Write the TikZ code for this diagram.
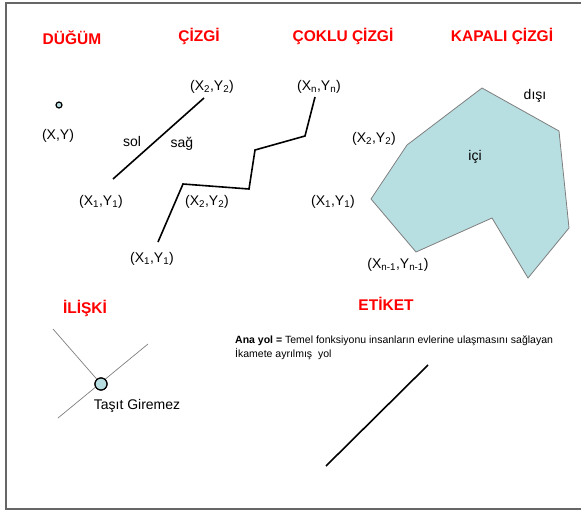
\documentclass[tikz,border=0pt]{standalone}
\usepackage{fontspec}
\setmainfont{Liberation Sans}
\definecolor{titlered}{HTML}{FF0000}
\definecolor{polyfill}{HTML}{B7DEE1}
\definecolor{framegray}{HTML}{666666}
\definecolor{edgegray}{HTML}{7F7F7F}
\tikzset{
  title/.style={font=\fontsize{15.5}{18}\selectfont\bfseries, text=titlered, inner sep=0pt},
  lbl/.style={font=\fontsize{14}{16}\selectfont, inner sep=0pt},
  blackline/.style={line width=1.6pt, black},
  relline/.style={line width=0.7pt, edgegray},
}
\begin{document}
\begin{tikzpicture}[x=1pt,y=-1pt]
\useasboundingbox (0,0) rectangle (581,511);
% frame
\draw[framegray, line width=1.5pt] (581,3) -- (6,3) -- (6,509) -- (581,509);

% titles
\node[title] (t1) at (72,38) {DÜĞÜM};
\node[title] (t2) at (199,36) {ÇİZGİ};
\node[title] (t3) at (343,36) {ÇOKLU ÇİZGİ};
\node[title] (t4) at (502,36) {KAPALI ÇİZGİ};
\node[title] (t5) at (85,308) {İLİŞKİ};
\node[title] (t6) at (386,304) {ETİKET};

% node (point)
\node[circle, draw=black, line width=1.2pt, fill=polyfill, minimum size=6pt, inner sep=0pt] (pt) at (59,105) {};
\node[lbl] (ptl) at (58,136) {(X,Y)};

% line
\coordinate (l1) at (113,179);
\coordinate (l2) at (204,98);
\draw[blackline] (l1) -- (l2);
\node[lbl] at (212,87) {(X\textsubscript{2},Y\textsubscript{2})};
\node[lbl] at (101,202) {(X\textsubscript{1},Y\textsubscript{1})};
\node[lbl] at (132,141) {sol};
\node[lbl] at (182,144) {sağ};

% polyline
\coordinate (p1) at (158,242);
\coordinate (p2) at (183,184);
\coordinate (p3) at (249,189);
\coordinate (p4) at (255,150);
\coordinate (p5) at (305,136);
\coordinate (p6) at (315,97);
\draw[blackline, line join=miter] (p1) -- (p2) -- (p3) -- (p4) -- (p5) -- (p6);
\node[lbl] at (207,202) {(X\textsubscript{2},Y\textsubscript{2})};
\node[lbl] at (152,259) {(X\textsubscript{1},Y\textsubscript{1})};
\node[lbl] at (319,87) {(X\textsubscript{n},Y\textsubscript{n})};

% polygon
\coordinate (q1) at (482,88);
\coordinate (q2) at (559,131);
\coordinate (q3) at (569,228);
\coordinate (q4) at (528,278);
\coordinate (q5) at (492,218);
\coordinate (q6) at (416,252);
\coordinate (q7) at (371,199);
\coordinate (q8) at (407,145);
\draw[fill=polyfill, draw=edgegray, line width=0.8pt] (q1) -- (q2) -- (q3) -- (q4) -- (q5) -- (q6) -- (q7) -- (q8) -- cycle;
\node[lbl] at (535,96) {dışı};
\node[lbl] at (475,157) {içi};
\node[lbl] at (374,139) {(X\textsubscript{2},Y\textsubscript{2})};
\node[lbl] at (333,202) {(X\textsubscript{1},Y\textsubscript{1})};
\node[lbl] at (398,265) {(X\textsubscript{n-1},Y\textsubscript{n-1})};

% relation
\coordinate (r1) at (53,329);
\coordinate (r2) at (148,344);
\coordinate (r3) at (58,418);
\node[circle, draw=black, line width=1.2pt, fill=polyfill, minimum size=12pt, inner sep=0pt] (rc) at (101,384) {};
\draw[relline] (r1) -- (rc);
\draw[relline] (r2) -- (r3);
\node[circle, draw=black, line width=1.2pt, fill=polyfill, minimum size=12pt, inner sep=0pt] at (101,384) {};
\node[lbl] (tg) at (137,406) {Taşıt Giremez};

% label
\node[anchor=north west, inner sep=0pt, align=left, font=\fontsize{10.5}{14}\selectfont] (ana) at (235,336)
  {\textbf{Ana yol =} Temel fonksiyonu insanların evlerine ulaşmasını sağlayan\\İkamete ayrılmış\ \ yol};
\coordinate (e1) at (326,466);
\coordinate (e2) at (428,365);
\draw[blackline] (e1) -- (e2);
\end{tikzpicture}
\end{document}
